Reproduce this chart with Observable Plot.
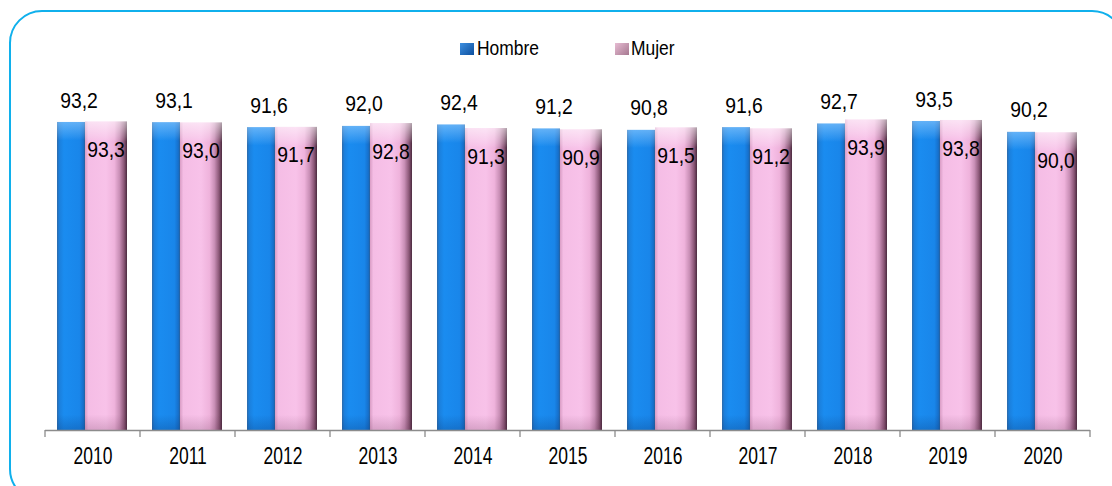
<!DOCTYPE html>
<html><head><meta charset="utf-8">
<script src="https://cdn.jsdelivr.net/npm/d3@7"></script>
<script src="https://cdn.jsdelivr.net/npm/@observablehq/plot@0.6"></script>
<style>
body{margin:0;width:1112px;height:486px;overflow:hidden;background:#fff;position:relative;font-family:"Liberation Sans",Arial,sans-serif;}
#frame{position:absolute;left:9px;top:10px;width:1116px;height:492px;border:2.5px solid #10b0ec;border-radius:33px;box-sizing:border-box;}
#chart{position:absolute;left:0;top:0;}
#legend{position:absolute;top:36px;left:0;width:1112px;height:24px;font-size:21px;color:#000;}
.sw{position:absolute;top:7px;width:14px;height:12px;}
.lb{position:absolute;top:0;line-height:24px;transform:scaleX(0.83);transform-origin:0 50%;white-space:nowrap;}
</style></head><body>
<div id="frame"></div>
<div id="chart"></div>
<div id="legend"></div>
<script>
const years = ["2010","2011","2012","2013","2014","2015","2016","2017","2018","2019","2020"];
const hombre = [93.2, 93.1, 91.6, 92.0, 92.4, 91.2, 90.8, 91.6, 92.7, 93.5, 90.2];
const mujer  = [93.3, 93.0, 91.7, 92.8, 91.3, 90.9, 91.5, 91.2, 93.9, 93.8, 90.0];
const series = ["Hombre", "Mujer"];

const data = years.map((year, i) => ({year, hombre: hombre[i], mujer: mujer[i]}));
const fmt = v => d3.format(".1f")(v).replace(".", ",");
const FONT = '"Liberation Sans",Arial,sans-serif';

// legend
const legend = document.getElementById("legend");
const legendPos = [{sw: 460, lb: 477, fill: "linear-gradient(135deg,#3d8fe0,#0d4f9e)"},
                   {sw: 615, lb: 631, fill: "linear-gradient(135deg,#e7bcd3,#a67890)"}];
series.forEach((s, i) => {
  const sw = document.createElement("div");
  sw.className = "sw"; sw.style.left = legendPos[i].sw + "px"; sw.style.background = legendPos[i].fill;
  const lb = document.createElement("div");
  lb.className = "lb"; lb.style.left = legendPos[i].lb + "px"; lb.textContent = s;
  legend.append(sw, lb);
});

function bandTicks(index, scales, values, dims) {
  const x = scales.x, y = scales.y;
  let bw = typeof x.bandwidth === "function" ? x.bandwidth() : x.bandwidth;
  if (!(bw > 0)) bw = (dims.width - dims.marginLeft - dims.marginRight) / years.length;
  const xs = years.map(v => x(v)).concat([x(years[years.length - 1]) + bw]);
  const y0 = y(0);
  const g = d3.create("svg:g").attr("stroke", "#8c8c8c").attr("stroke-width", 1.3);
  xs.forEach(px => g.append("line").attr("x1", px).attr("x2", px).attr("y1", y0).attr("y2", y0 + 7));
  return g.node();
}

const hOpts = {x: "year", y: "hombre", insetLeft: 12, insetRight: 55};
const mOpts = {x: "year", y: "mujer", insetLeft: 40, insetRight: 13};

const chart = Plot.plot({
  width: 1112, height: 486,
  marginLeft: 45, marginRight: 22, marginTop: 99.5, marginBottom: 56,
  x: {type: "band", domain: years, padding: 0},
  y: {domain: [0, 100], axis: null},
  style: {fontFamily: FONT, fontSize: "22px", color: "#000", background: "transparent"},
  marks: [
    Plot.barY(data, {...hOpts, fill: "url(#gH)"}),
    Plot.barY(data, {...hOpts, fill: "url(#vH)"}),
    Plot.barY(data, {...mOpts, fill: "url(#gM)"}),
    Plot.barY(data, {...mOpts, fill: "url(#vM)"}),
    Plot.ruleY([0], {stroke: "#8c8c8c", strokeWidth: 1.3}),
    bandTicks,
    Plot.axisX({tickSize: 0, tickPadding: 17, fontSize: 23, label: null, fill: "#000"}),
    Plot.text(data, {x: "year", y: "hombre", text: d => fmt(d.hombre), dx: -14, dy: -22, lineAnchor: "middle", fontSize: 22, fill: "#000"}),
    Plot.text(data, {x: "year", y: "mujer", text: d => fmt(d.mujer), dx: 13, dy: 28, lineAnchor: "middle", fontSize: 22, fill: "#000"})
  ]
});

const svg = d3.select(chart);
const defs = svg.insert("defs", ":first-child");
function grad(id, stops, vertical) {
  const lg = defs.append("linearGradient").attr("id", id).attr("x1", 0).attr("y1", 0)
    .attr("x2", vertical ? 0 : 1).attr("y2", vertical ? 1 : 0);
  stops.forEach(([o, c, a]) => lg.append("stop").attr("offset", o).attr("stop-color", c).attr("stop-opacity", a ?? 1));
}
grad("gH", [[0, "#2f6aa8"], [0.08, "#1b7fdc"], [0.25, "#1a8cf0"], [0.8, "#1986ea"], [0.94, "#1670cc"], [1, "#2a5f98"]]);
grad("gM", [[0, "#d99cc4"], [0.08, "#f5bde5"], [0.5, "#f8c2e9"], [0.7, "#efb3dc"], [0.82, "#c98fb6"], [0.93, "#8a5676"], [1, "#4a2a3e"]]);
grad("vH", [[0, "#9fd2ff", 0.55], [0.045, "#9fd2ff", 0.15], [0.06, "#9fd2ff", 0], [0.95, "#0a3d80", 0], [1, "#0a3d80", 0.3]], true);
grad("vM", [[0, "#ffffff", 0.55], [0.05, "#ffffff", 0.15], [0.065, "#ffffff", 0], [0.95, "#5a2a48", 0], [1, "#5a2a48", 0.2]], true);
document.getElementById("chart").append(chart);

// narrow the glyphs horizontally to match the condensed lettering of the reference
svg.selectAll("text").each(function () {
  const isAxis = /axis|tick/.test(this.parentNode.getAttribute("aria-label") || "");
  const f = isAxis ? 0.76 : 0.88;
  const len = this.getComputedTextLength();
  if (len > 0) {
    this.setAttribute("textLength", (len * f).toFixed(2));
    this.setAttribute("lengthAdjust", "spacingAndGlyphs");
  }
});
</script>
</body></html>
